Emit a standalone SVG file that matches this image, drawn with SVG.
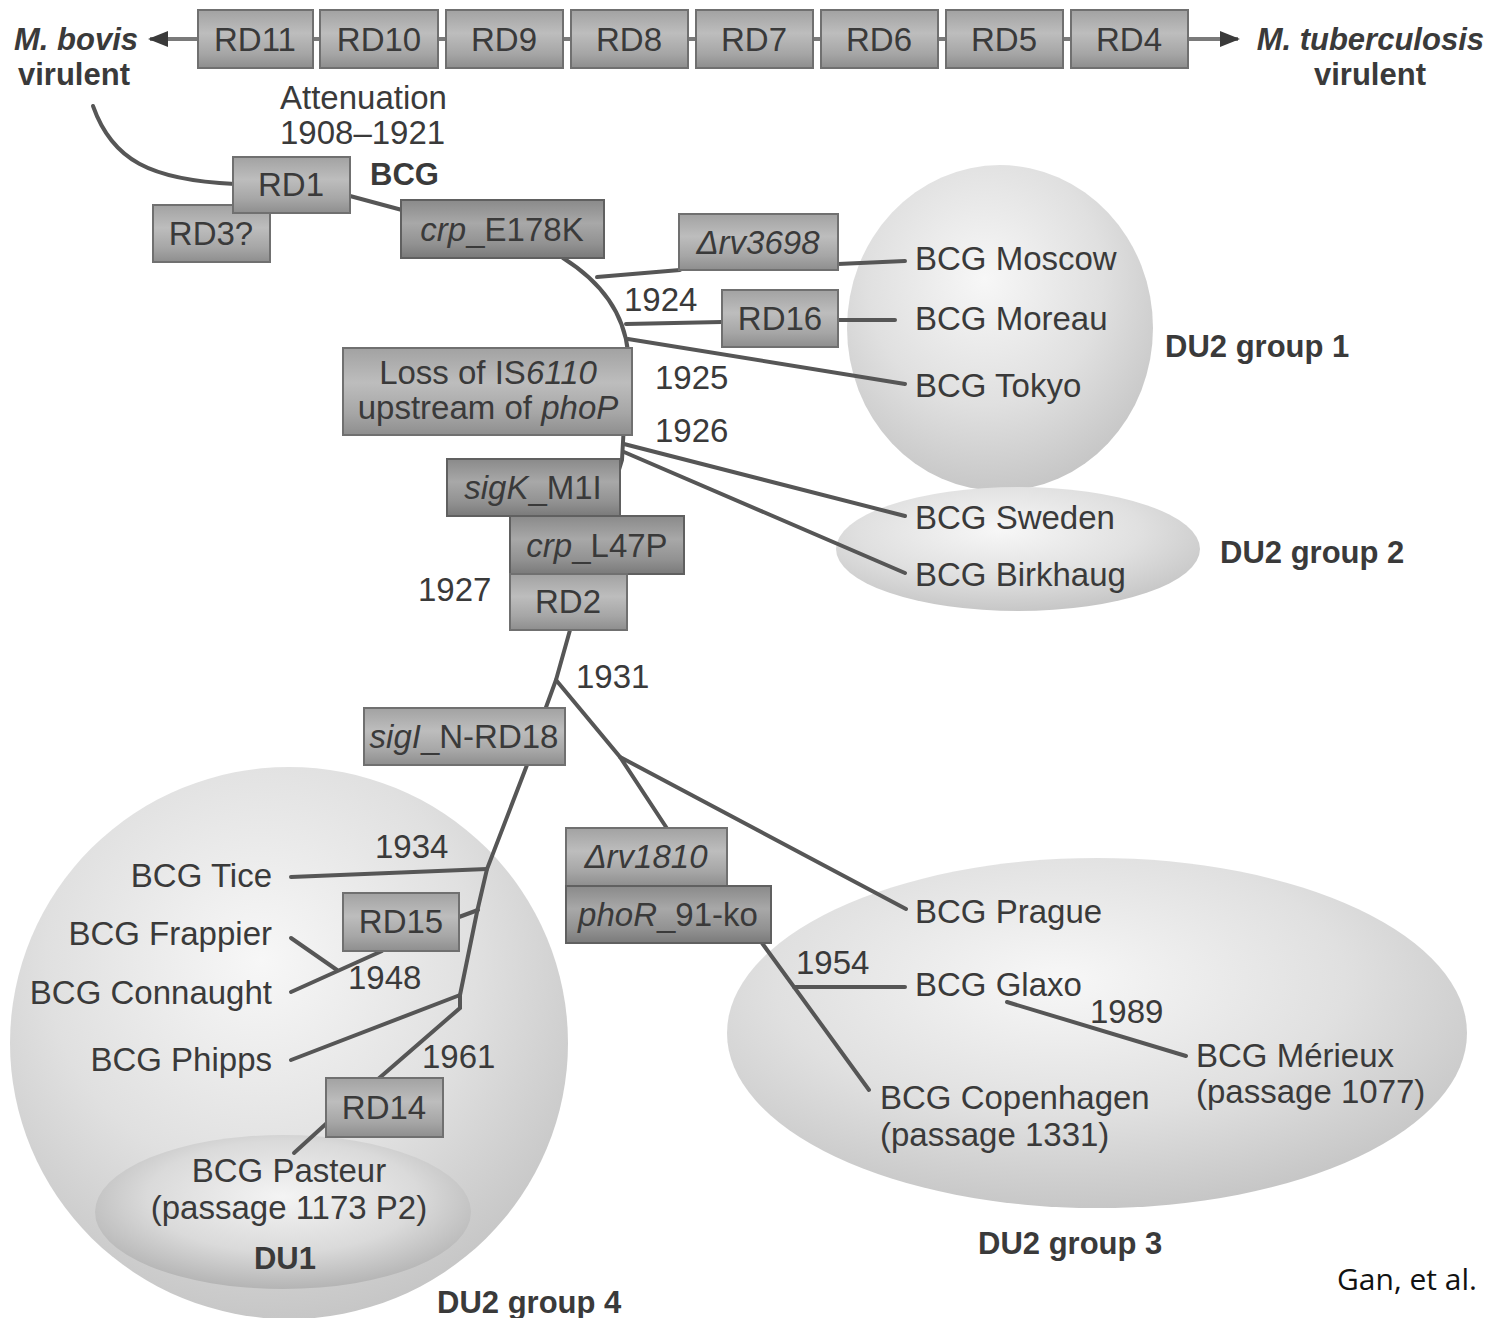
<svg xmlns="http://www.w3.org/2000/svg" width="1490" height="1318" viewBox="0 0 1490 1318">
<defs>
<radialGradient id="eg" cx="0.45" cy="0.35" r="0.7">
<stop offset="0" stop-color="#f7f7f7"/>
<stop offset="0.55" stop-color="#e0e0e0"/>
<stop offset="1" stop-color="#c2c2c2"/>
</radialGradient>
<radialGradient id="eg2" cx="0.5" cy="0.4" r="0.6">
<stop offset="0" stop-color="#f4f4f4"/>
<stop offset="0.6" stop-color="#dadada"/>
<stop offset="1" stop-color="#b4b4b4"/>
</radialGradient>
<linearGradient id="bg" x1="0" y1="0" x2="0" y2="1">
<stop offset="0" stop-color="#a2a2a2"/>
<stop offset="0.4" stop-color="#bdbdbd"/>
<stop offset="0.75" stop-color="#a6a6a6"/>
<stop offset="1" stop-color="#8e8e8e"/>
</linearGradient>
<linearGradient id="bgd" x1="0" y1="0" x2="0" y2="1">
<stop offset="0" stop-color="#8a8a8a"/>
<stop offset="0.4" stop-color="#a8a8a8"/>
<stop offset="0.75" stop-color="#929292"/>
<stop offset="1" stop-color="#7a7a7a"/>
</linearGradient>
<marker id="ah" viewBox="0 0 10 10" refX="9" refY="5" markerWidth="5" markerHeight="5" orient="auto-start-reverse" markerUnits="strokeWidth">
<path d="M0,1 L10,5 L0,9 Z" fill="#3a3a3a"/>
</marker>
<style>
text{font-family:"Liberation Sans",Arial,sans-serif;fill:#3a3a3a;font-size:33px}
.b{font-weight:bold;font-size:31px}
.bi{font-weight:bold;font-style:italic;font-size:31px}
.i{font-style:italic}
.c{text-anchor:middle}
.e{text-anchor:end}
.box{fill:url(#bg);stroke:#707070;stroke-width:2}
.boxd{fill:url(#bgd);stroke:#606060;stroke-width:2}
.ell{fill:url(#eg)}
.ln{fill:none;stroke:#565656;stroke-width:4;stroke-linecap:round}
.tl{fill:none;stroke:#7a7a7a;stroke-width:4}
</style>
</defs>

<g id="groups">
<ellipse id="du2g4" class="ell" cx="289" cy="1043" rx="279" ry="276"/>
<ellipse id="du1" cx="283" cy="1212" rx="188" ry="77" fill="url(#eg2)"/>
<ellipse id="du2g1" class="ell" cx="1000" cy="328" rx="153" ry="163"/>
<ellipse id="du2g2" class="ell" cx="1018" cy="549" rx="182" ry="62"/>
<ellipse id="du2g3" class="ell" cx="1097" cy="1033" rx="370" ry="175"/>
</g>

<g id="connectors">
<line class="tl" x1="198" y1="39" x2="150" y2="39" marker-end="url(#ah)"/>
<line class="tl" x1="1188" y1="39" x2="1238" y2="39" marker-end="url(#ah)"/>
<line class="tl" x1="313" y1="39" x2="320" y2="39"/>
<line class="tl" x1="438" y1="39" x2="446" y2="39"/>
<line class="tl" x1="563" y1="39" x2="571" y2="39"/>
<line class="tl" x1="688" y1="39" x2="696" y2="39"/>
<line class="tl" x1="813" y1="39" x2="821" y2="39"/>
<line class="tl" x1="938" y1="39" x2="946" y2="39"/>
<line class="tl" x1="1063" y1="39" x2="1071" y2="39"/>
<path class="ln" d="M93,106 C112,160 150,180 235,184"/>
<line class="ln" x1="350" y1="196" x2="402" y2="210"/>
<path class="ln" d="M563,258 Q622,295 628,352 L622,460 L570,630 L556,680 L545,710"/>
<line class="ln" x1="597" y1="277" x2="680" y2="270"/>
<line class="ln" x1="838" y1="264" x2="905" y2="261"/>
<line class="ln" x1="626" y1="324" x2="722" y2="322"/>
<line class="ln" x1="838" y1="320" x2="895" y2="320"/>
<line class="ln" x1="628" y1="339" x2="905" y2="384"/>
<line class="ln" x1="624" y1="444" x2="905" y2="516"/>
<line class="ln" x1="624" y1="452" x2="905" y2="573"/>
<path class="ln" d="M556,680 L620,757 L668,830"/>
<line class="ln" x1="620" y1="757" x2="906" y2="909"/>
<path class="ln" d="M527,765 L487,869 L477,912 L460,995 L460,1008 L377,1080"/>
<line class="ln" x1="291" y1="877" x2="487" y2="869"/>
<line class="ln" x1="459" y1="917" x2="478" y2="910"/>
<line class="ln" x1="291" y1="938" x2="337" y2="970"/>
<line class="ln" x1="291" y1="992" x2="382" y2="951"/>
<line class="ln" x1="291" y1="1060" x2="460" y2="995"/>
<line class="ln" x1="328" y1="1122" x2="294" y2="1153"/>
<line class="ln" x1="762" y1="943" x2="869" y2="1090"/>
<line class="ln" x1="794" y1="987" x2="905" y2="987"/>
<line class="ln" x1="1007" y1="1002" x2="1186" y2="1056"/>
</g>

<g id="top-row">
<g id="rd11"><rect class="box" x="198" y="10" width="115" height="58"/><text class="c" x="255" y="51">RD11</text></g>
<g id="rd10"><rect class="box" x="320" y="10" width="118" height="58"/><text class="c" x="379" y="51">RD10</text></g>
<g id="rd9"><rect class="box" x="446" y="10" width="117" height="58"/><text class="c" x="504" y="51">RD9</text></g>
<g id="rd8"><rect class="box" x="571" y="10" width="117" height="58"/><text class="c" x="629" y="51">RD8</text></g>
<g id="rd7"><rect class="box" x="696" y="10" width="117" height="58"/><text class="c" x="754" y="51">RD7</text></g>
<g id="rd6"><rect class="box" x="821" y="10" width="117" height="58"/><text class="c" x="879" y="51">RD6</text></g>
<g id="rd5"><rect class="box" x="946" y="10" width="117" height="58"/><text class="c" x="1004" y="51">RD5</text></g>
<g id="rd4"><rect class="box" x="1071" y="10" width="117" height="58"/><text class="c" x="1129" y="51">RD4</text></g>
</g>

<g id="ends">
<text class="bi" x="14" y="50">M. bovis</text>
<text class="b" x="18" y="85">virulent</text>
<text class="bi e" x="1484" y="50">M. tuberculosis</text>
<text class="b c" x="1370" y="85">virulent</text>
<text x="280" y="109">Attenuation</text>
<text x="280" y="144">1908–1921</text>
<text class="b" x="370" y="185">BCG</text>
</g>

<g id="rd3"><rect class="box" x="153" y="205" width="117" height="57"/><text class="c" x="211" y="245">RD3?</text></g>
<g id="rd1"><rect class="box" x="233" y="157" width="117" height="56"/><text class="c" x="291" y="196">RD1</text></g>
<g id="crpE178K"><rect class="boxd" x="401" y="200" width="203" height="58"/><text class="c" x="502" y="241"><tspan class="i">crp</tspan>_E178K</text></g>
<g id="rv3698"><rect class="box" x="679" y="214" width="159" height="56"/><text class="c i" x="758" y="254">Δrv3698</text></g>
<g id="rd16"><rect class="box" x="722" y="290" width="116" height="57"/><text class="c" x="780" y="330">RD16</text></g>
<g id="is6110"><rect class="box" x="343" y="348" width="289" height="87"/><text class="c" x="488" y="384">Loss of IS<tspan class="i">6110</tspan></text><text class="c" x="488" y="419">upstream of <tspan class="i">phoP</tspan></text></g>
<g id="sigK"><rect class="boxd" x="447" y="459" width="173" height="57"/><text class="c" x="533" y="499"><tspan class="i">sigK</tspan>_M1I</text></g>
<g id="crpL47P"><rect class="boxd" x="510" y="516" width="174" height="58"/><text class="c" x="597" y="557"><tspan class="i">crp</tspan>_L47P</text></g>
<g id="rd2"><rect class="box" x="510" y="574" width="117" height="56"/><text class="c" x="568" y="613">RD2</text></g>
<g id="sigI"><rect class="box" x="364" y="708" width="201" height="57"/><text class="c" x="464" y="748"><tspan class="i">sigI</tspan>_N-RD18</text></g>
<g id="rv1810"><rect class="box" x="566" y="828" width="161" height="58"/><text class="c i" x="646" y="868">Δrv1810</text></g>
<g id="phoR"><rect class="boxd" x="566" y="886" width="205" height="57"/><text class="c" x="668" y="926"><tspan class="i">phoR</tspan>_91-ko</text></g>
<g id="rd15"><rect class="box" x="343" y="893" width="116" height="58"/><text class="c" x="401" y="933">RD15</text></g>
<g id="rd14"><rect class="box" x="326" y="1078" width="117" height="59"/><text class="c" x="384" y="1119">RD14</text></g>

<g id="labels">
<text x="915" y="270">BCG Moscow</text>
<text x="915" y="330">BCG Moreau</text>
<text x="915" y="397">BCG Tokyo</text>
<text class="b" x="1165" y="357">DU2 group 1</text>
<text x="915" y="529">BCG Sweden</text>
<text x="915" y="586">BCG Birkhaug</text>
<text class="b" x="1220" y="563">DU2 group 2</text>
<text x="624" y="311">1924</text>
<text x="655" y="389">1925</text>
<text x="655" y="442">1926</text>
<text x="418" y="601">1927</text>
<text x="576" y="688">1931</text>
<text x="375" y="858">1934</text>
<text class="e" x="272" y="887">BCG Tice</text>
<text class="e" x="272" y="945">BCG Frappier</text>
<text class="e" x="272" y="1004">BCG Connaught</text>
<text x="348" y="989">1948</text>
<text class="e" x="272" y="1071">BCG Phipps</text>
<text x="422" y="1068">1961</text>
<text class="c" x="289" y="1182">BCG Pasteur</text>
<text class="c" x="289" y="1219">(passage 1173 P2)</text>
<text class="b c" x="285" y="1269">DU1</text>
<text class="b" x="437" y="1313">DU2 group 4</text>
<text x="915" y="923">BCG Prague</text>
<text x="796" y="974">1954</text>
<text x="915" y="996">BCG Glaxo</text>
<text x="1090" y="1023">1989</text>
<text x="1196" y="1067">BCG Mérieux</text>
<text x="1196" y="1103">(passage 1077)</text>
<text x="880" y="1109">BCG Copenhagen</text>
<text x="880" y="1146">(passage 1331)</text>
<text class="b" x="978" y="1254">DU2 group 3</text>
<text x="1337" y="1290" style="fill:#111;font-size:30px;font-family:'Open Sans','Liberation Sans',sans-serif">Gan, et al.</text>
</g>
</svg>
